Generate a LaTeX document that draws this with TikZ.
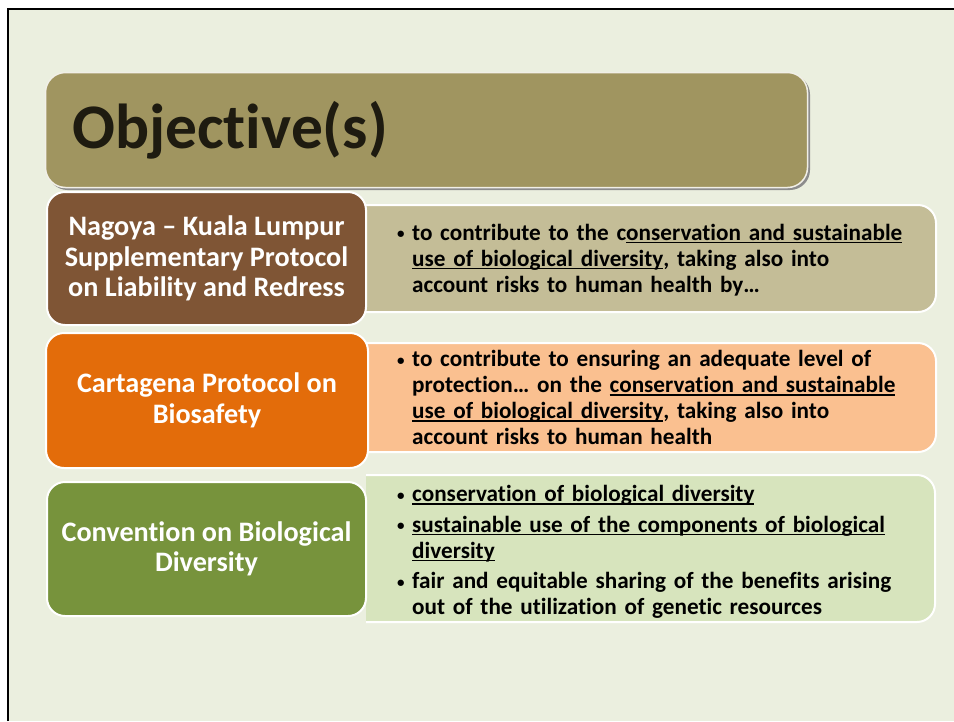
\documentclass[tikz,border=0pt]{standalone}
\usepackage{fontspec}
\setmainfont{Carlito}[Ligatures=NoCommon]
\newsavebox{\ulbox}
\newcommand{\uln}[1]{\sbox{\ulbox}{#1}\rlap{\rule[-3pt]{\wd\ulbox}{1.5pt}}\usebox{\ulbox}}
\definecolor{slidebg}{HTML}{EBEFDF}
\definecolor{titlec}{HTML}{A09560}
\definecolor{titletxt}{HTML}{1E1B10}
\definecolor{brownc}{HTML}{7F5535}
\definecolor{tanc}{HTML}{C4BD97}
\definecolor{orangec}{HTML}{E36C0A}
\definecolor{peachc}{HTML}{FAC090}
\definecolor{greenc}{HTML}{77933C}
\definecolor{lgreenc}{HTML}{D7E4BD}
\newcommand{\bitem}[1]{\par\noindent\hangindent=15pt\hangafter=1\makebox[15pt][l]{\raisebox{1.5pt}{\fontsize{15}{15}\selectfont\textbullet}}#1\par}
\begin{document}
\begin{tikzpicture}[x=1pt,y=-1pt,
  box/.style={rectangle, rounded corners=18pt, draw=white, line width=2pt},
  lefttext/.style={font=\bfseries\fontsize{28.2}{30.5}\selectfont, text=white, align=center, inner sep=0pt},
  bultext/.style={font=\bfseries\fontsize{23.2}{26}\selectfont, text=black, text width=540pt, anchor=west, inner sep=0pt}
]
\useasboundingbox (0,0) rectangle (954,721);
\fill[white] (0,0) rectangle (954,721);
\fill[slidebg] (8,9) rectangle (954,721);
\draw[line width=2pt] (8,721) -- (8,9) -- (954,9);

% title
\fill[black!45, rounded corners=20pt] (47.5,74.5) rectangle (810,190);
\node[rectangle, rounded corners=20pt, fill=titlec, draw=white!85!titlec, line width=1.5pt,
      minimum width=762pt, minimum height=115pt] (title) at (426.5,130) {};
\node[anchor=base west, inner sep=0pt, text=titletxt, font=\bfseries\fontsize{63.5}{70}\selectfont] (titletext) at (72,148) {Objective(s)};

% right-hand boxes, clipped on the left
\begin{scope}
\clip (366,0) rectangle (954,721);
\node[box, fill=tanc, minimum width=606pt, minimum height=107pt] (tanbox) at (633,258.5) {};
\node[box, fill=peachc, minimum width=606pt, minimum height=109pt] (peachbox) at (633,397.5) {};
\node[box, fill=lgreenc, minimum width=605pt, minimum height=147pt] (lgreenbox) at (632.5,548.5) {};
\end{scope}

% left-hand boxes
\node[box, fill=brownc, minimum width=319pt, minimum height=133pt, lefttext] (nagoya) at (206.5,258.5)
  {Nagoya – Kuala Lumpur\\Supplementary Protocol\\on Liability and Redress};
\node[box, fill=orangec, minimum width=322pt, minimum height=135pt, lefttext] (cartagena) at (207,400.5)
  {Cartagena Protocol on\\Biosafety};
\node[box, fill=greenc, minimum width=319pt, minimum height=134pt, lefttext] (cbd) at (206.5,549)
  {Convention on Biological\\Diversity};

% bullet texts
\node[bultext] (t1) at (397,255) {\raggedright
  \bitem{to contribute to the c\uln{onservation and sustainable}\newline
  \uln{use of biological diversity}, taking also into\newline
  account risks to human health by…}};
\node[bultext] (t2) at (397,393) {\raggedright
  \bitem{to contribute to ensuring an adequate level of\newline
  protection… on the \uln{conservation and sustainable}\newline
  \uln{use of biological diversity}, taking also into\newline
  account risks to human health}};
\node[bultext] (t3) at (397,545) {\raggedright\setlength{\parskip}{4.5pt}%
  \bitem{\uln{conservation of biological diversity}}
  \bitem{\uln{sustainable use of the components of biological}\newline
  \uln{diversity}}
  \bitem{fair and equitable sharing of the benefits arising\newline
  out of the utilization of genetic resources}};
\end{tikzpicture}
\end{document}
